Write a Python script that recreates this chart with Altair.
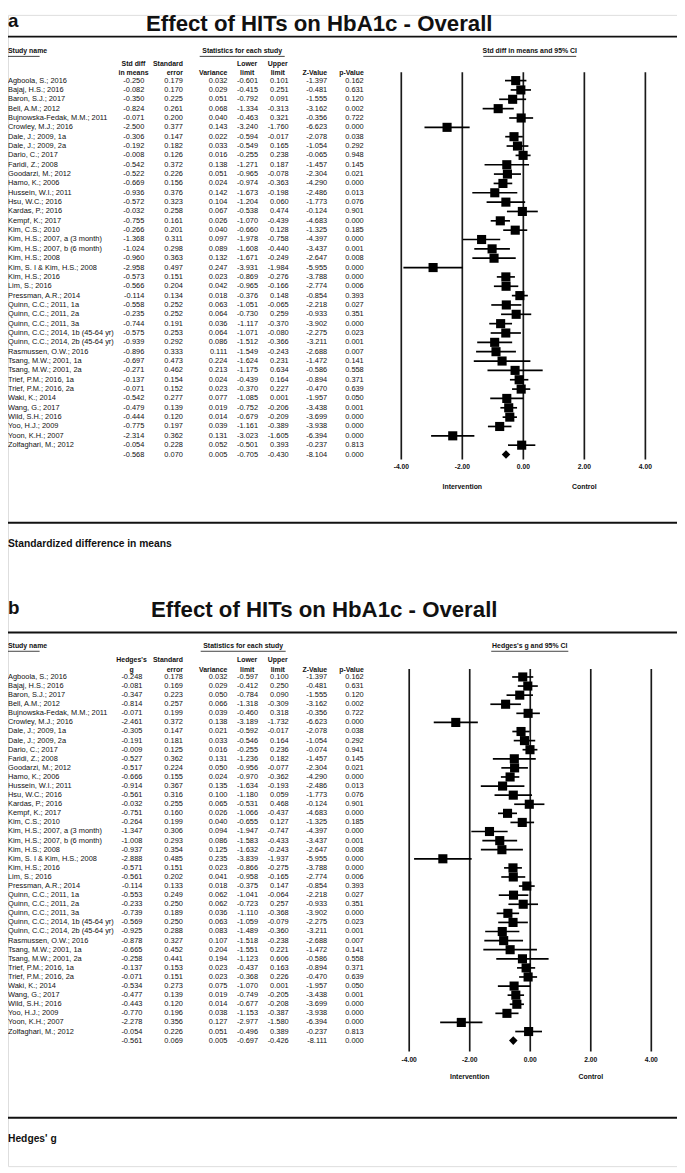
import altair as alt
import pandas as pd

# ---------------- data ----------------
studies = [
    "Agboola, S.; 2016", "Bajaj, H.S.; 2016", "Baron, S.J.; 2017", "Bell, A.M.; 2012",
    "Bujnowska-Fedak, M.M.; 2011", "Crowley, M.J.; 2016", "Dale, J.; 2009, 1a", "Dale, J.; 2009, 2a",
    "Dario, C.; 2017", "Faridi, Z.; 2008", "Goodarzi, M.; 2012", "Hamo, K.; 2006",
    "Hussein, W.I.; 2011", "Hsu, W.C.; 2016", "Kardas, P.; 2016", "Kempf, K.; 2017",
    "Kim, C.S.; 2010", "Kim, H.S.; 2007, a (3 month)", "Kim, H.S.; 2007, b (6 month)",
    "Kim, H.S.; 2008", "Kim, S. I & Kim, H.S.; 2008", "Kim, H.S.; 2016", "Lim, S.; 2016",
    "Pressman, A.R.; 2014", "Quinn, C.C.; 2011, 1a", "Quinn, C.C.; 2011, 2a", "Quinn, C.C.; 2011, 3a",
    "Quinn, C.C.; 2014, 1b (45-64 yr)", "Quinn, C.C.; 2014, 2b (45-64 yr)", "Rasmussen, O.W.; 2016",
    "Tsang, M.W.; 2001, 1a", "Tsang, M.W.; 2001, 2a", "Trief, P.M.; 2016, 1a", "Trief, P.M.; 2016, 2a",
    "Waki, K.; 2014", "Wang, G.; 2017", "Wild, S.H.; 2016", "Yoo, H.J.; 2009", "Yoon, K.H.; 2007",
    "Zolfaghari, M.; 2012",
]

# Panel a: standardized difference in means (last value = overall)
a_est = [-0.250, -0.082, -0.350, -0.824, -0.071, -2.500, -0.306, -0.192, -0.008, -0.542, -0.522, -0.669,
         -0.936, -0.572, -0.032, -0.755, -0.266, -1.368, -1.024, -0.960, -2.958, -0.573, -0.566, -0.114,
         -0.558, -0.235, -0.744, -0.575, -0.939, -0.896, -0.697, -0.271, -0.137, -0.071, -0.542, -0.479,
         -0.444, -0.775, -2.314, -0.054, -0.568]
a_se = [0.179, 0.170, 0.225, 0.261, 0.200, 0.377, 0.147, 0.182, 0.126, 0.372, 0.226, 0.156, 0.376, 0.323,
        0.258, 0.161, 0.201, 0.311, 0.298, 0.363, 0.497, 0.151, 0.204, 0.134, 0.252, 0.252, 0.191, 0.253,
        0.292, 0.333, 0.473, 0.462, 0.154, 0.152, 0.277, 0.139, 0.120, 0.197, 0.362, 0.228, 0.070]
a_var = [0.032, 0.029, 0.051, 0.068, 0.040, 0.143, 0.022, 0.033, 0.016, 0.138, 0.051, 0.024, 0.142, 0.104,
         0.067, 0.026, 0.040, 0.097, 0.089, 0.132, 0.247, 0.023, 0.042, 0.018, 0.063, 0.064, 0.036, 0.064,
         0.086, 0.111, 0.224, 0.213, 0.024, 0.023, 0.077, 0.019, 0.014, 0.039, 0.131, 0.052, 0.005]
a_lo = [-0.601, -0.415, -0.792, -1.334, -0.463, -3.240, -0.594, -0.549, -0.255, -1.271, -0.965, -0.974,
        -1.673, -1.204, -0.538, -1.070, -0.660, -1.978, -1.608, -1.671, -3.931, -0.869, -0.965, -0.376,
        -1.051, -0.730, -1.117, -1.071, -1.512, -1.549, -1.624, -1.175, -0.439, -0.370, -1.085, -0.752,
        -0.679, -1.161, -3.023, -0.501, -0.705]
a_hi = [0.101, 0.251, 0.091, -0.313, 0.321, -1.760, -0.017, 0.165, 0.238, 0.187, -0.078, -0.363, -0.198,
        0.060, 0.474, -0.439, 0.128, -0.758, -0.440, -0.249, -1.984, -0.276, -0.166, 0.148, -0.065, 0.259,
        -0.370, -0.080, -0.366, -0.243, 0.231, 0.634, 0.164, 0.227, 0.001, -0.206, -0.209, -0.389, -1.605,
        0.393, -0.430]
a_z = [-1.397, -0.481, -1.555, -3.162, -0.356, -6.623, -2.078, -1.054, -0.065, -1.457, -2.304, -4.290,
       -2.486, -1.773, -0.124, -4.683, -1.325, -4.397, -3.437, -2.647, -5.955, -3.788, -2.774, -0.854,
       -2.218, -0.933, -3.902, -2.275, -3.211, -2.688, -1.472, -0.586, -0.894, -0.470, -1.957, -3.438,
       -3.699, -3.938, -6.394, -0.237, -8.104]
a_p = [0.162, 0.631, 0.120, 0.002, 0.722, 0.000, 0.038, 0.292, 0.948, 0.145, 0.021, 0.000, 0.013, 0.076,
       0.901, 0.000, 0.185, 0.000, 0.001, 0.008, 0.000, 0.000, 0.006, 0.393, 0.027, 0.351, 0.000, 0.023,
       0.001, 0.007, 0.141, 0.558, 0.371, 0.639, 0.050, 0.001, 0.000, 0.000, 0.000, 0.813, 0.000]

# Panel b: Hedges's g (last value = overall)
b_est = [-0.248, -0.081, -0.347, -0.814, -0.071, -2.461, -0.305, -0.191, -0.009, -0.527, -0.517, -0.666,
         -0.914, -0.561, -0.032, -0.751, -0.264, -1.347, -1.008, -0.937, -2.888, -0.571, -0.561, -0.114,
         -0.553, -0.233, -0.739, -0.569, -0.925, -0.878, -0.665, -0.258, -0.137, -0.071, -0.534, -0.477,
         -0.443, -0.770, -2.278, -0.054, -0.561]
b_se = [0.178, 0.169, 0.223, 0.257, 0.199, 0.372, 0.147, 0.181, 0.125, 0.362, 0.224, 0.155, 0.367, 0.316,
        0.255, 0.160, 0.199, 0.306, 0.293, 0.354, 0.485, 0.151, 0.202, 0.133, 0.249, 0.250, 0.189, 0.250,
        0.288, 0.327, 0.452, 0.441, 0.153, 0.151, 0.273, 0.139, 0.120, 0.196, 0.356, 0.226, 0.069]
b_var = [0.032, 0.029, 0.050, 0.066, 0.039, 0.138, 0.021, 0.033, 0.016, 0.131, 0.050, 0.024, 0.135, 0.100,
         0.065, 0.026, 0.040, 0.094, 0.086, 0.125, 0.235, 0.023, 0.041, 0.018, 0.062, 0.062, 0.036, 0.063,
         0.083, 0.107, 0.204, 0.194, 0.023, 0.023, 0.075, 0.019, 0.014, 0.038, 0.127, 0.051, 0.005]
b_lo = [-0.597, -0.412, -0.784, -1.318, -0.460, -3.189, -0.592, -0.546, -0.255, -1.236, -0.956, -0.970,
        -1.634, -1.180, -0.531, -1.066, -0.655, -1.947, -1.583, -1.632, -3.839, -0.866, -0.958, -0.375,
        -1.041, -0.723, -1.110, -1.059, -1.489, -1.518, -1.551, -1.123, -0.437, -0.368, -1.070, -0.749,
        -0.677, -1.153, -2.977, -0.496, -0.697]
b_hi = [0.100, 0.250, 0.090, -0.309, 0.318, -1.732, -0.017, 0.164, 0.236, 0.182, -0.077, -0.362, -0.193,
        0.059, 0.468, -0.437, 0.127, -0.747, -0.433, -0.243, -1.937, -0.275, -0.165, 0.147, -0.064, 0.257,
        -0.368, -0.079, -0.360, -0.238, 0.221, 0.606, 0.163, 0.226, 0.001, -0.205, -0.208, -0.387, -1.580,
        0.389, -0.426]
b_z = [-1.397, -0.481, -1.555, -3.162, -0.356, -6.623, -2.078, -1.054, -0.074, -1.457, -2.304, -4.290,
       -2.486, -1.773, -0.124, -4.683, -1.325, -4.397, -3.437, -2.647, -5.955, -3.788, -2.774, -0.854,
       -2.218, -0.933, -3.902, -2.275, -3.211, -2.688, -1.472, -0.586, -0.894, -0.470, -1.957, -3.438,
       -3.699, -3.938, -6.394, -0.237, -8.111]
b_p = [0.162, 0.631, 0.120, 0.002, 0.722, 0.000, 0.038, 0.292, 0.941, 0.145, 0.021, 0.000, 0.013, 0.076,
       0.901, 0.000, 0.185, 0.000, 0.001, 0.008, 0.000, 0.000, 0.006, 0.393, 0.027, 0.351, 0.000, 0.023,
       0.001, 0.007, 0.141, 0.558, 0.371, 0.639, 0.050, 0.001, 0.000, 0.000, 0.000, 0.813, 0.000]

tick_values = [-4, -2, 0, 2, 4]
tick_labels = ["-4.00", "-2.00", "0.00", "2.00", "4.00"]
side_values = [-2, 2]
side_labels = ["Intervention", "Control"]

title_text = "Effect of HITs on HbA1c - Overall"

# ---------------- layout (page pixels) ----------------
OFF = 8
W, H = 685 - OFF, 1173 - OFF
FONT = "Liberation Sans"
INK = "#111111"


def fmt(v):
    return f"{v:.3f}"


def build_df(est, se, var, lo, hi, z, p):
    n = len(est)
    names = studies + [""]
    return pd.DataFrame({
        "row": list(range(n)),
        "name": names,
        "c1": [fmt(v) for v in est], "c2": [fmt(v) for v in se], "c3": [fmt(v) for v in var],
        "c4": [fmt(v) for v in lo], "c5": [fmt(v) for v in hi], "c6": [fmt(v) for v in z],
        "c7": [fmt(v) for v in p],
        "est": est, "lo": lo, "hi": hi,
        "kind": ["study"] * (n - 1) + ["summary"],
    })


dummy = pd.DataFrame({"d": [0]})


def yscale(top, sp):
    tc = top - OFF
    d0 = -tc / sp
    d1 = d0 + H / sp
    return alt.Scale(domain=[d0, d1], reverse=True, nice=False, zero=False)


def xscale(L, R):
    u = (R - L) / 8.0
    lc = L - OFF
    d0 = -4 - lc / u
    d1 = d0 + W / u
    return alt.Scale(domain=[d0, d1], nice=False, zero=False)


def label(text, x, y, size, bold=False, align="left"):
    return alt.Chart(dummy).mark_text(
        text=text, align=align, baseline="middle", font=FONT, fontSize=size,
        fontWeight="bold" if bold else "normal", color=INK,
    ).encode(x=alt.value(max(0, x - OFF)), y=alt.value(y - OFF))


def hline(y, x0=0, x1=685, width=2.0):
    return alt.Chart(dummy).mark_rule(color=INK, strokeWidth=width).encode(
        x=alt.value(max(0, x0 - OFF)), x2=alt.value(x1 - OFF), y=alt.value(y - OFF))


def panel(df, cfg):
    ys = yscale(cfg["row_top"], cfg["row_sp"])
    xs = xscale(cfg["L"], cfg["R"])
    Y = alt.Y("row:Q", scale=ys, axis=None)
    layers = []
    # panel letter & title
    layers.append(label(cfg["letter"], 2, cfg["letter_y"], 19, bold=True))
    layers.append(label(title_text, cfg["title_x"], cfg["title_y"], 22.5, bold=True, align="center"))
    layers.append(hline(cfg["line1"]))
    # section headers
    sh = cfg["sec_y"]
    layers.append(label("Study name", 2, sh, 7, bold=True))
    layers.append(label("Statistics for each study", cfg["stat_x"], sh, 7, bold=True, align="center"))
    layers.append(label(cfg["ci_head"], cfg["ci_x"], sh, 7, bold=True, align="center"))
    for (x0, x1) in cfg["underlines"]:
        layers.append(hline(sh + 5, x0, x1, width=0.8))
    # column headers
    h1, h2 = cfg["h1"], cfg["h2"]
    cols = cfg["cols"]
    hdrs = cfg["headers"]
    for (r, (t1, t2, al)) in zip(cols, hdrs):
        xx = r if al == "right" else r - cfg["hc"]
        if t1:
            layers.append(label(t1, xx, h1, 7, bold=True, align=al))
        if t2:
            layers.append(label(t2, xx, h2, 7, bold=True, align=al))
    # table body
    base = alt.Chart(df)
    layers.append(base.mark_text(align="left", baseline="middle", font=FONT, fontSize=7.5, color=INK)
                  .encode(x=alt.value(0), y=Y, text="name:N"))
    for k, r in enumerate(cols, start=1):
        layers.append(base.mark_text(align="right", baseline="middle", font=FONT, fontSize=7.5, color=INK)
                      .encode(x=alt.value(r - OFF), y=Y, text=f"c{k}:N"))
    # forest frame
    tdf = pd.DataFrame({"t": tick_values, "lab": tick_labels})
    layers.append(alt.Chart(tdf).mark_rule(color="#1a1a1a", strokeWidth=1.7).encode(
        x=alt.X("t:Q", scale=xs, axis=None), y=alt.value(cfg["v_top"] - OFF), y2=alt.value(cfg["v_bot"] - OFF)))
    layers.append(alt.Chart(tdf).mark_text(font=FONT, fontSize=6.8, fontWeight="bold", color=INK,
                                           baseline="middle").encode(
        x=alt.X("t:Q", scale=xs, axis=None), y=alt.value(cfg["tick_y"] - OFF), text="lab:N"))
    sdf = pd.DataFrame({"t": side_values, "lab": side_labels})
    layers.append(alt.Chart(sdf).mark_text(font=FONT, fontSize=7, fontWeight="bold", color=INK,
                                           baseline="middle").encode(
        x=alt.X("t:Q", scale=xs, axis=None), y=alt.value(cfg["side_y"] - OFF), text="lab:N"))
    studies_only = base.transform_filter(alt.datum.kind == "study")
    layers.append(studies_only.mark_rule(color="#000000", strokeWidth=1.7).encode(
        x=alt.X("lo:Q", scale=xs, axis=None), x2="hi:Q", y=Y))
    layers.append(studies_only.mark_square(size=85, color="#000000", opacity=1).encode(
        x=alt.X("est:Q", scale=xs, axis=None), y=Y))
    layers.append(base.transform_filter(alt.datum.kind == "summary").mark_point(
        shape="diamond", filled=True, size=75, color="#000000", opacity=1).encode(
        x=alt.X("est:Q", scale=xs, axis=None), y=Y))
    # bottom
    layers.append(hline(cfg["line2"]))
    layers.append(label(cfg["foot"], 2, cfg["foot_y"], 10.4, bold=True))
    return layers


hdr_a = [("Std diff", "in means", "center"), ("Standard", "error", "right"), ("", "Variance", "right"),
         ("Lower", "limit", "center"), ("Upper", "limit", "center"), ("", "Z-Value", "right"),
         ("", "p-Value", "right")]
hdr_b = [("Hedges's", "g", "center"), ("Standard", "error", "right"), ("", "Variance", "right"),
         ("Lower", "limit", "center"), ("Upper", "limit", "center"), ("", "Z-Value", "right"),
         ("", "p-Value", "right")]

cols_common = [146, 185, 230, 261, 292, 331, 368]

cfg_a = dict(letter="a", letter_y=14, title_x=323, title_y=17.5, line1=30, sec_y=45, stat_x=245,
             ci_head="Std diff in means and 95% CI", ci_x=536,
             underlines=[(2, 40), (202, 288), (489, 583)],
             h1=57.5, h2=67, hc=11, cols=cols_common, headers=hdr_a,
             row_top=74.5, row_sp=9.46, L=406, R=653, v_top=66, v_bot=458, tick_y=466, side_y=486,
             line2=522, foot="Standardized difference in means", foot_y=543)
cfg_b = dict(letter="b", letter_y=608, title_x=328, title_y=610, line1=633, sec_y=647, stat_x=246,
             ci_head="Hedges's g and 95% CI", ci_x=536,
             underlines=[(2, 40), (203, 289), (497, 575)],
             h1=661, h2=671, hc=11, cols=[144] + cols_common[1:], headers=hdr_b,
             row_top=678, row_sp=9.2, L=414, R=659, v_top=670, v_bot=1057, tick_y=1066, side_y=1083,
             line2=1124, foot="Hedges' g", foot_y=1146)

df_a = build_df(a_est, a_se, a_var, a_lo, a_hi, a_z, a_p)
df_b = build_df(b_est, b_se, b_var, b_lo, b_hi, b_z, b_p)

all_layers = panel(df_a, cfg_a) + panel(df_b, cfg_b)

chart = alt.layer(*all_layers).resolve_scale(x="independent", y="independent").properties(
    width=W, height=H, autosize=alt.AutoSizeParams(type="none"), padding=0,
).configure_view(stroke=None).configure(background="white")

chart.save("out.html", embed_options={"renderer": "svg", "actions": False})
